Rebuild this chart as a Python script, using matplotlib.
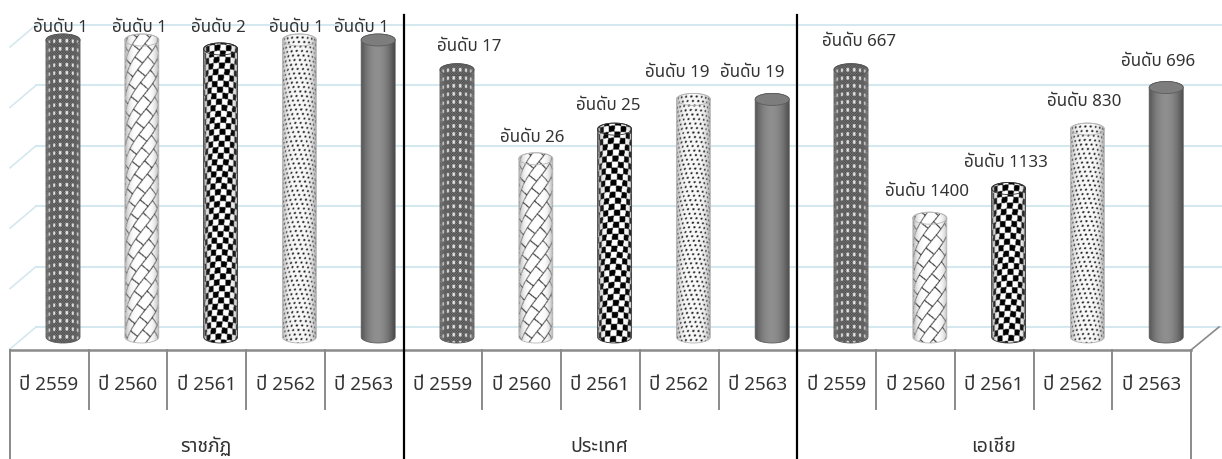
import numpy as np
import matplotlib
matplotlib.use("Agg")
import matplotlib.pyplot as plt
from matplotlib import font_manager as fm
from matplotlib.ft2font import FT2Font
from matplotlib.path import Path
from matplotlib.patches import PathPatch

# data (value axis is hidden, so heights are in grid steps)
groups = ["ราชภัฏ", "ประเทศ", "เอเชีย"]
years = ["ปี 2559", "ปี 2560", "ปี 2561", "ปี 2562", "ปี 2563"]
heights_uni = [5, 5, 4.85, 5, 5]
heights_country = [4.5, 3, 3.5, 4, 4]
heights_asia = [4.5, 2, 2.5, 3.5, 4.2]
ranks_uni = [1, 1, 2, 1, 1]
ranks_country = [17, 26, 25, 19, 19]
ranks_asia = [667, 1400, 1133, 830, 696]

# label shift from the bar centre, in pixels
label_dx = [-3, -2, -2, -3, -17, 12, -4, -6, -16, -20, 8, -3, -3, -3, -8]
label_dy = [12, 12, 21, 12, 12, 23, 21, 23, 26, 26, 28, 26, 25, 27, 25]

W, H = 1222, 459
X0, DX = 63, 78.8      # pixel of first bar, pixels per bar
Y0, DY = 337, 59.4     # pixel of zero, pixels per grid step
BAR_R, CAP_R = 17, 6   # cylinder half width and ellipse half height in pixels


def thai_font():
    # not every family here has Thai, take the first that does
    names = ["Noto Sans Thai", "Noto Sans", "Liberation Sans", "DejaVu Sans"]
    found = {}
    for f in fm.fontManager.ttflist:
        try:
            if 0x0E2D in FT2Font(f.fname).get_charmap() and f.style == "normal":
                found.setdefault(f.name, f.name)
        except Exception:
            pass
    for n in names:
        if n in found:
            return n
    return next(iter(found), "DejaVu Sans")


plt.rcParams["font.family"] = [thai_font(), "DejaVu Sans"]


def texture(kind, nx, ny):
    # nx, ny in half pixels
    x = np.linspace(-1, 1, nx)
    u = np.arcsin(np.clip(x, -1, 1)) * BAR_R
    yy = np.arange(ny)[:, None] / 2.0
    curve = CAP_R * (np.sqrt(1 - x ** 2))
    v = yy + curve[None, :] * 0.6
    u = u[None, :] * np.ones_like(v)
    if kind == "mesh":
        a = np.sin(u * 2 * np.pi / 2.6) * np.sin(v * 2 * np.pi / 2.6)
        band = (np.abs(np.sin(u * 2 * np.pi / 13)) > 0.85) & (np.sin(v * 2 * np.pi / 8) > 0.3)
        img = 0.38 + 0.3 * a + 0.55 * band
    elif kind == "weave":
        p = u * 0.75 + v * 0.6
        q = v * 0.75 - u * 0.6
        row = np.floor(p / 10)
        line1 = np.abs((p / 10) % 1 - 0.5) > 0.46
        line2 = np.abs(((q + row * 8) / 16) % 1 - 0.5) > 0.47
        img = np.where(line1 | line2, 0.15, 1.0)
    elif kind == "checker":
        su = u + v * 0.08
        img = ((np.floor(su / 6) + np.floor(v / 6)) % 2) * 1.0
    elif kind == "dots":
        su = u + v * 0.25
        row = np.floor(v / 4.5)
        d = np.hypot(((su + row * 2.75) % 5.5) - 2.75, (v % 4.5) - 2.25)
        img = np.where(d < 1.1, 0.1, 0.97)
    else:
        img = np.full_like(v, 0.56)
    # shading across the cylinder
    if kind == "solid":
        shade = 0.55 + 0.45 * (1 - np.abs(x + 0.05) ** 2)
        img = img * shade
    else:
        img = 1 - (1 - img) * (0.55 + 0.45 * (1 - np.abs(x) ** 6))
        img = img * (0.7 + 0.3 * (1 - np.abs(x) ** 4))
    return np.clip(img, 0, 1)


def cylinder_path(xc, top, rx, ry):
    t = np.linspace(0, np.pi, 40)
    xs = np.r_[xc - rx, xc - rx * np.cos(t), xc + rx, xc + rx * np.cos(t)]
    ys = np.r_[top, -ry * np.sin(t), top, top + ry * np.sin(t)]
    return Path(np.column_stack([xs, ys]))


def ellipse_path(xc, top, rx, ry):
    t = np.linspace(0, 2 * np.pi, 60)
    return Path(np.column_stack([xc + rx * np.cos(t), top + ry * np.sin(t)]), closed=True)


fig = plt.figure(figsize=(W / 100, H / 100), dpi=100)

# pixel axes for the frame of the chart
frame = fig.add_axes([0, 0, 1, 1])
frame.set_xlim(0, W)
frame.set_ylim(H, 0)
frame.axis("off")

GRID = "#d5e8f0"
EDGE = "#8a8a8a"
for i in range(6):
    y = 327 - i * 60.4
    frame.plot([36, W], [y, y], color=GRID, lw=1.5, zorder=1)
    frame.plot([10, 36], [y + 22, y], color=GRID, lw=1.2, zorder=1)
frame.plot([10, 1191], [350, 350], color=EDGE, lw=1.8, zorder=2)
frame.plot([1191, 1219], [350, 327], color=EDGE, lw=1.2, zorder=2)

for i in range(16):
    x = 10 + i * 78.74
    if i % 5 == 0:
        if i in (5, 10):
            frame.plot([x, x], [15, H], color="black", lw=1.6, zorder=6)
        else:
            frame.plot([x, x], [350, H], color=EDGE, lw=1.4, zorder=2)
    else:
        frame.plot([x, x], [350, 409], color=EDGE, lw=1.4, zorder=2)

# data axes, same area, x in bar index and y in grid steps
ax = fig.add_axes([0, 0, 1, 1], zorder=3)
ax.patch.set_alpha(0)
ax.set_xlim(-X0 / DX, (W - X0) / DX)
ax.set_ylim((Y0 - H) / DY, Y0 / DY)
ax.axis("off")

heights = heights_uni + heights_country + heights_asia
ranks = ranks_uni + ranks_country + ranks_asia
kinds = ["mesh", "weave", "checker", "dots", "solid"]
rx, ry = BAR_R / DX, CAP_R / DY

for i, (h, r) in enumerate(zip(heights, ranks)):
    kind = kinds[i % 5]
    px_h = int((h * DY + 2 * CAP_R) * 2)
    img = texture(kind, 68, px_h)
    im = ax.imshow(img, cmap="gray", vmin=0, vmax=1, aspect="auto", interpolation="bilinear",
                   extent=(i - rx, i + rx, -ry, h + ry), zorder=3)
    body = PathPatch(cylinder_path(i, h, rx, ry), transform=ax.transData, fc="none", ec="none")
    ax.add_patch(body)
    im.set_clip_path(body)
    edge = {"mesh": "#555555", "checker": "#333333", "solid": "#5c5c5c"}.get(kind, "#b5b5b5")
    ax.add_patch(PathPatch(cylinder_path(i, h, rx, ry), fc="none", ec=edge, lw=0.6, zorder=4))
    # patterned bars show their texture on the cap too, so only the solid one gets a fill
    cap = "#7d7d7d" if kind == "solid" else "none"
    ax.add_patch(PathPatch(ellipse_path(i, h, rx, ry), fc=cap, ec=edge, lw=0.6, zorder=5))
    ax.text(i + label_dx[i] / DX, h + ry + label_dy[i] / DY - 0.1, f"อันดับ {r}", ha="center", va="center",
            fontsize=12.2, color="#333333", zorder=7)

for i in range(15):
    frame.text(49 + i * 78.74, 385, years[i % 5], ha="center", va="center", fontsize=13.5, color="#333333")
for i, g in enumerate(groups):
    frame.text(206 + i * 393.7, 447, g, ha="center", va="center", fontsize=14, color="#333333")

fig.savefig("out.png", dpi=100)
